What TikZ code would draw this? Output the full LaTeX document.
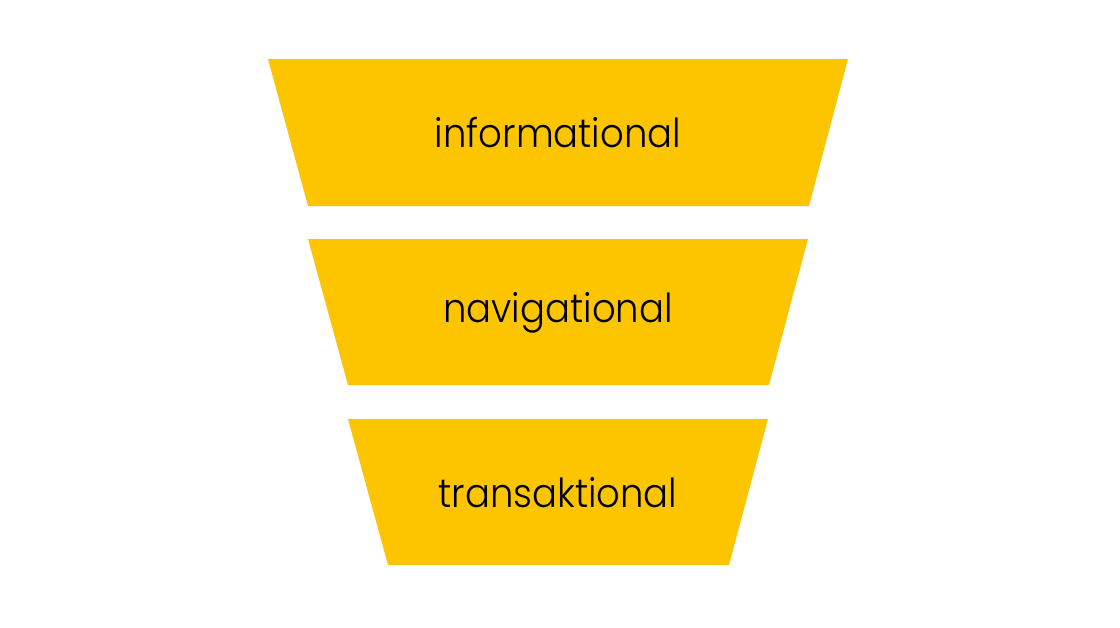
\documentclass[tikz,border=0pt]{standalone}
\usepackage{fontspec}
\setmainfont{Poppins}[UprightFont=* Light]
\usepackage{graphicx}
\usepackage{xcolor}
\definecolor{funnelyellow}{HTML}{FCC500}
\tikzset{funneltext/.style={font=\fontsize{40}{46}\selectfont}}
\newcommand{\narrow}[1]{\scalebox{0.925}[1]{#1}}

\begin{document}
\begin{tikzpicture}[x=1pt,y=-1pt]
		\useasboundingbox (0,0) rectangle (1120,627);
		\fill[funnelyellow] (268,59) -- (848,59) -- (809,206) -- (308,206) -- cycle;
		\fill[funnelyellow] (308,239) -- (808,239) -- (769,385) -- (348,385) -- cycle;
		\fill[funnelyellow] (348,419) -- (768,419) -- (729,565) -- (388,565) -- cycle;
		\node[funneltext] (info) at (558,133) {\narrow{informational}};
		\node[funneltext] (navi) at (558,313) {\narrow{navigational}};
		\node[funneltext] (trans) at (558,493) {\narrow{transaktional}};
	\end{tikzpicture}
\end{document}
